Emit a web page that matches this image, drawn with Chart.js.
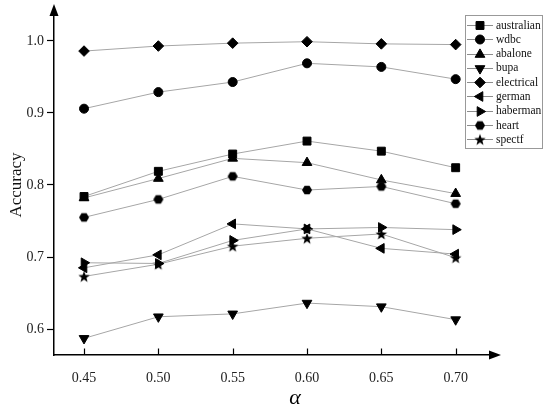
<!DOCTYPE html>
<html>
<head>
<meta charset="utf-8">
<script src="https://cdn.jsdelivr.net/npm/chart.js@4.4.0/dist/chart.umd.min.js"></script>
<style>
  html, body { margin: 0; padding: 0; background: #fff; }
  #wrap { width: 550px; height: 411px; }
</style>
</head>
<body>
<div id="wrap"><canvas id="c" width="550" height="411"></canvas></div>
<script>
// ---- data ----
const alphas = [0.45, 0.50, 0.55, 0.60, 0.65, 0.70];
const xTickValues = [0.45, 0.50, 0.55, 0.60, 0.65, 0.70];
const yTickValues = [0.6, 0.7, 0.8, 0.9, 1.0];
const seriesNames = ['australian', 'wdbc', 'abalone', 'bupa', 'electrical', 'german', 'haberman', 'heart', 'spectf'];
const australian = [0.784, 0.819, 0.843, 0.861, 0.847, 0.824];
const wdbc       = [0.906, 0.929, 0.943, 0.969, 0.964, 0.947];
const abalone    = [0.782, 0.809, 0.837, 0.831, 0.807, 0.788];
const bupa       = [0.587, 0.617, 0.621, 0.636, 0.631, 0.613];
const electrical = [0.986, 0.993, 0.997, 0.999, 0.996, 0.995];
const german     = [0.685, 0.703, 0.746, 0.739, 0.712, 0.704];
const haberman   = [0.692, 0.691, 0.723, 0.739, 0.741, 0.738];
const heart      = [0.755, 0.780, 0.812, 0.793, 0.798, 0.774];
const spectf     = [0.673, 0.690, 0.715, 0.726, 0.732, 0.699];
const seriesValues = [australian, wdbc, abalone, bupa, electrical, german, haberman, heart, spectf];

// ---- custom marker images ----
function makeHexagon(r) {
  const s = Math.ceil(2 * r + 2);
  const cv = document.createElement('canvas');
  cv.width = s; cv.height = s;
  const g = cv.getContext('2d');
  g.fillStyle = '#000';
  g.beginPath();
  for (let k = 0; k < 6; k++) {
    const a = k * Math.PI / 3;
    const px = s / 2 + r * Math.cos(a), py = s / 2 + r * Math.sin(a);
    if (k === 0) g.moveTo(px, py); else g.lineTo(px, py);
  }
  g.closePath(); g.fill();
  return cv;
}
function makeStar(ro, ri) {
  const s = Math.ceil(2 * ro + 2);
  const cv = document.createElement('canvas');
  cv.width = s; cv.height = s;
  const g = cv.getContext('2d');
  g.fillStyle = '#000';
  g.beginPath();
  for (let k = 0; k < 10; k++) {
    const rr = k % 2 === 0 ? ro : ri;
    const a = -Math.PI / 2 + k * Math.PI / 5;
    const px = s / 2 + rr * Math.cos(a), py = s / 2 + 0.6 + rr * Math.sin(a);
    if (k === 0) g.moveTo(px, py); else g.lineTo(px, py);
  }
  g.closePath(); g.fill();
  return cv;
}
const hexImg = makeHexagon(5);
const starImg = makeStar(6, 2.5);

const markerStyles = [
  { pointStyle: 'rect', rotation: 0, radius: 5.6 },
  { pointStyle: 'circle', rotation: 0, radius: 4.5 },
  { pointStyle: 'triangle', rotation: 0, radius: 5.6 },
  { pointStyle: 'triangle', rotation: 180, radius: 5.6 },
  { pointStyle: 'rectRot', rotation: 0, radius: 5.3 },
  { pointStyle: 'triangle', rotation: 270, radius: 5.6 },
  { pointStyle: 'triangle', rotation: 90, radius: 5.6 },
  { pointStyle: hexImg, rotation: 0, radius: 5 },
  { pointStyle: starImg, rotation: 0, radius: 5 }
];

const datasets = seriesNames.map((name, i) => ({
  label: name,
  data: alphas.map((a, j) => ({ x: a, y: seriesValues[i][j] })),
  borderColor: '#a6a6a6',
  borderWidth: 1,
  backgroundColor: '#000',
  pointBackgroundColor: '#000',
  pointBorderColor: '#000',
  pointBorderWidth: 1,
  pointStyle: markerStyles[i].pointStyle,
  pointRotation: markerStyles[i].rotation,
  pointRadius: markerStyles[i].radius,
  pointHoverRadius: markerStyles[i].radius,
  tension: 0,
  fill: false
}));

const SERIF = '"Liberation Serif", "Times New Roman", serif';

function drawMarker(ctx, st, x, y) {
  ctx.save();
  ctx.fillStyle = '#000';
  ctx.strokeStyle = '#000';
  ctx.lineWidth = 1;
  if (Chart.helpers && Chart.helpers.drawPoint) {
    Chart.helpers.drawPoint(ctx, { pointStyle: st.pointStyle, rotation: st.rotation, radius: st.radius, borderWidth: 1 }, x, y);
  } else if (st.pointStyle instanceof HTMLCanvasElement) {
    ctx.drawImage(st.pointStyle, x - st.pointStyle.width / 2, y - st.pointStyle.height / 2);
  } else {
    ctx.beginPath(); ctx.arc(x, y, st.radius, 0, Math.PI * 2); ctx.fill();
  }
  ctx.restore();
}

const decor = {
  id: 'decor',
  afterDraw(chart) {
    const ctx = chart.ctx;
    const ca = chart.chartArea;
    const xs = chart.scales.x;
    ctx.save();
    // axis arrows
    ctx.fillStyle = '#000';
    ctx.beginPath();
    ctx.moveTo(ca.left, ca.top - 11);
    ctx.lineTo(ca.left - 4.5, ca.top + 1);
    ctx.lineTo(ca.left + 4.5, ca.top + 1);
    ctx.closePath(); ctx.fill();
    ctx.beginPath();
    ctx.moveTo(ca.right + 11, ca.bottom);
    ctx.lineTo(ca.right - 1, ca.bottom - 4.5);
    ctx.lineTo(ca.right - 1, ca.bottom + 4.5);
    ctx.closePath(); ctx.fill();
    // inward x ticks
    ctx.strokeStyle = '#000';
    ctx.lineWidth = 1.2;
    xTickValues.forEach(v => {
      const px = Math.round(xs.getPixelForValue(v)) + 0.5;
      ctx.beginPath();
      ctx.moveTo(px, ca.bottom);
      ctx.lineTo(px, ca.bottom - 6.5);
      ctx.stroke();
    });
    // x axis title
    ctx.fillStyle = '#000';
    ctx.font = 'italic 22px ' + SERIF;
    ctx.textAlign = 'center';
    ctx.textBaseline = 'alphabetic';
    ctx.fillText('α', 295, 404);
    // legend
    const lx = 465.5, ly = 15.5, lw = 77, lh = 133;
    ctx.fillStyle = '#fff';
    ctx.fillRect(lx, ly, lw, lh);
    ctx.strokeStyle = '#999';
    ctx.lineWidth = 1;
    ctx.strokeRect(lx, ly, lw, lh);
    ctx.font = '11.5px ' + SERIF;
    ctx.textAlign = 'left';
    ctx.textBaseline = 'middle';
    chart.data.datasets.forEach((ds, i) => {
      const cy = 25 + i * 14.29;
      ctx.strokeStyle = '#8c8c8c';
      ctx.lineWidth = 1;
      ctx.beginPath();
      ctx.moveTo(467, Math.round(cy) + 0.5);
      ctx.lineTo(493, Math.round(cy) + 0.5);
      ctx.stroke();
      drawMarker(ctx, markerStyles[i], 480, Math.round(cy) + 0.5);
      ctx.fillStyle = '#111';
      ctx.fillText(ds.label, 496, cy + 0.5);
    });
    ctx.restore();
  }
};

new Chart(document.getElementById('c'), {
  type: 'line',
  data: { datasets },
  options: {
    responsive: false,
    animation: false,
    devicePixelRatio: 1,
    layout: { padding: { left: 0, top: 15, right: 60, bottom: 0 } },
    plugins: { legend: { display: false }, tooltip: { enabled: false } },
    scales: {
      x: {
        type: 'linear',
        min: 0.4298,
        max: 0.7231,
        afterBuildTicks: s => { s.ticks = xTickValues.map(v => ({ value: v })); },
        afterFit: s => { s.height = 56; },
        ticks: {
          callback: v => Number(v).toFixed(2),
          font: { family: SERIF, size: 14 },
          color: '#222',
          padding: 15,
          maxRotation: 0,
          autoSkip: false
        },
        grid: { display: false, drawTicks: false },
        border: { display: true, color: '#000', width: 1.5 }
      },
      y: {
        type: 'linear',
        min: 0.5639,
        max: 1.0361,
        afterBuildTicks: s => { s.ticks = yTickValues.map(v => ({ value: v })); },
        afterFit: s => { s.width = 54; },
        ticks: {
          callback: v => Number(v).toFixed(1),
          font: { family: SERIF, size: 14 },
          color: '#222',
          padding: 3
        },
        grid: { display: true, drawOnChartArea: false, drawTicks: true, tickLength: 7, color: '#000', tickWidth: 1.2 },
        border: { display: true, color: '#000', width: 1.5 },
        title: {
          display: true,
          text: 'Accuracy',
          font: { family: SERIF, size: 17 },
          color: '#111',
          padding: { top: 6, bottom: 0 }
        }
      }
    }
  },
  plugins: [decor]
});
</script>
</body>
</html>
